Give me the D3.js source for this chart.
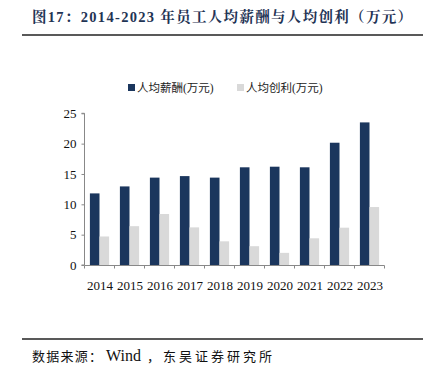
<!DOCTYPE html>
<html><head><meta charset="utf-8">
<script src="https://cdn.jsdelivr.net/npm/d3@7/dist/d3.min.js"></script>
<style>body{margin:0;background:#fff;}svg{display:block;}</style>
</head><body>
<svg id="c" width="430" height="374"></svg>
<script>
const years = ["2014","2015","2016","2017","2018","2019","2020","2021","2022","2023"];
const salary = [11.8, 12.95, 14.4, 14.65, 14.4, 16.1, 16.2, 16.1, 20.15, 23.5];
const profit = [4.7, 6.4, 8.4, 6.2, 3.9, 3.1, 2.0, 4.4, 6.15, 9.55];
const yTicks = [0, 5, 10, 15, 20, 25];
const seriesNames = ["人均薪酬(万元)", "人均创利(万元)"];
const colors = ["#1b365d", "#d9d9d9"];

const svg = d3.select("#c");
const serif = "'Liberation Serif','Times New Roman',serif";
const cjk = "'Liberation Serif','Noto Sans CJK SC','Noto Sans',sans-serif";

// title
svg.append("text").attr("x", 32).attr("y", 22)
  .attr("font-family", "'Liberation Serif','Noto Serif CJK SC','Noto Sans CJK SC',serif")
  .attr("font-weight", "bold").attr("font-size", 14.5).attr("fill", "#1f3455")
  .attr("textLength", 380).attr("lengthAdjust", "spacing")
  .text("图17：2014-2023 年员工人均薪酬与人均创利（万元）");
svg.append("line").attr("x1", 22).attr("x2", 423).attr("y1", 35).attr("y2", 35)
  .attr("stroke", "#222").attr("stroke-width", 1.5);
svg.append("line").attr("x1", 22).attr("x2", 423).attr("y1", 339).attr("y2", 339)
  .attr("stroke", "#222").attr("stroke-width", 1.5);
const src = svg.append("text").attr("y", 361)
  .attr("font-family", cjk).attr("font-size", 13).attr("fill", "#111");
src.append("tspan").attr("x", 32).attr("textLength", 70).attr("lengthAdjust", "spacing").text("数据来源：");
src.append("tspan").attr("x", 106).attr("font-size", 16).text("Wind");
src.append("tspan").attr("x", 147).attr("textLength", 125).attr("lengthAdjust", "spacing").text("，东吴证券研究所");

const x = d3.scaleBand().domain(years).range([84.5, 384.5]).paddingInner(0.36).paddingOuter(0.18);
const y = d3.scaleLinear().domain([0, 25]).range([265, 113.3]);
const x1 = d3.scaleBand().domain([0, 1]).range([0, x.bandwidth()]);

// bars
const g = svg.append("g");
[salary, profit].forEach((vals, si) => {
  g.selectAll(".b" + si).data(years).enter().append("rect")
    .attr("x", d => x(d) + x1(si))
    .attr("y", (d, i) => y(vals[i]))
    .attr("width", x1.bandwidth())
    .attr("height", (d, i) => y(0) - y(vals[i]))
    .attr("fill", colors[si]);
});

// y axis
const yAxis = d3.axisLeft(y).tickValues(yTicks).tickSize(3).tickPadding(5);
const ya = svg.append("g").attr("transform", "translate(84.5,0)").call(yAxis);
ya.select(".domain").attr("stroke", "#888").attr("d", "M-3,113.3H0V265H-3");
ya.selectAll(".tick line").attr("stroke", "#888");
ya.selectAll("text").attr("font-family", serif).attr("font-size", 13).attr("fill", "#111");

// x axis
const xa = svg.append("g").attr("transform", "translate(0,265.5)");
xa.append("line").attr("x1", 84.5).attr("x2", 384.5).attr("stroke", "#888");
d3.range(years.length + 1).forEach(i => {
  const px = 84.5 + i * x.step();
  xa.append("line").attr("x1", px).attr("x2", px).attr("y1", 0).attr("y2", 3).attr("stroke", "#888");
});
xa.selectAll(".xl").data(years).enter().append("text")
  .attr("x", d => x(d) + x.bandwidth() / 2 + 0.5).attr("y", 24)
  .attr("text-anchor", "middle").attr("font-family", serif).attr("font-size", 13).attr("fill", "#111")
  .text(d => d);

// legend
const legX = [128, 237];
seriesNames.forEach((n, i) => {
  svg.append("rect").attr("x", legX[i]).attr("y", 84).attr("width", 7).attr("height", 7).attr("fill", colors[i]);
  svg.append("text").attr("x", legX[i] + 9).attr("y", 91.5)
    .attr("font-family", cjk).attr("font-size", 11.5).attr("fill", "#222").text(n);
});
</script>
</body></html>
